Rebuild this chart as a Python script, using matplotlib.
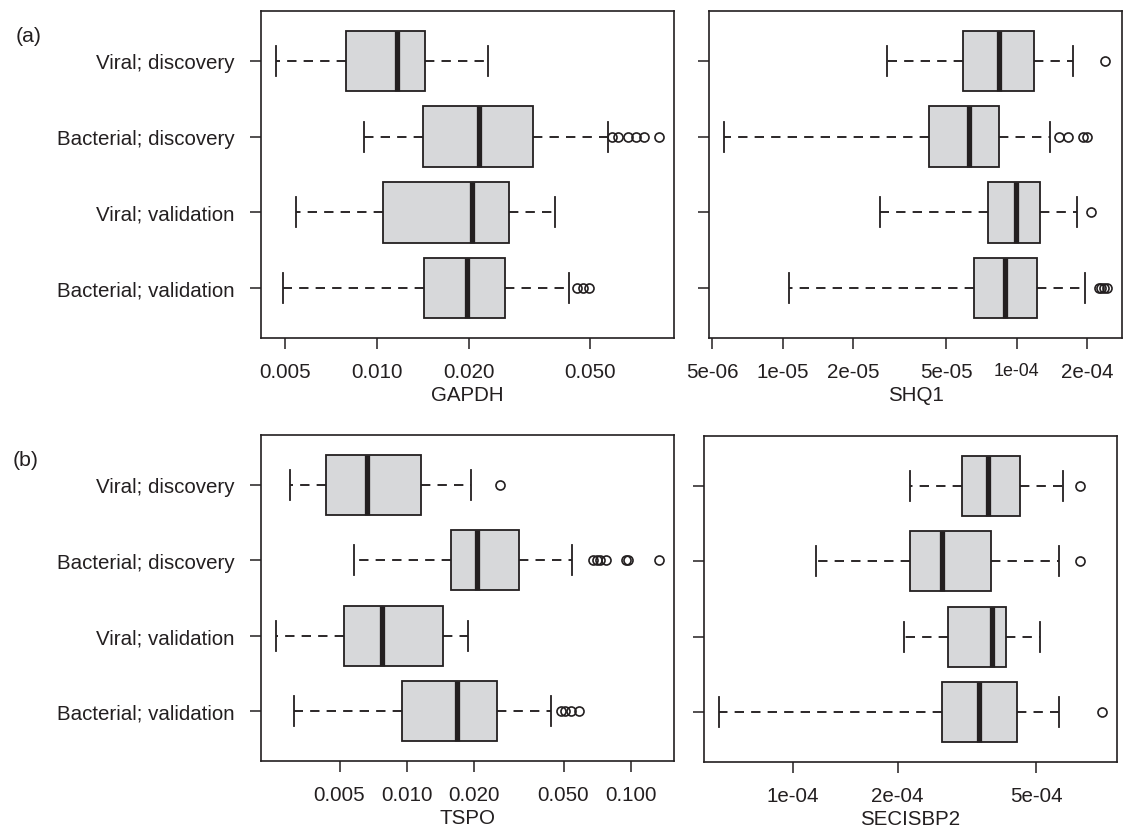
import math
import matplotlib
matplotlib.use("Agg")
import matplotlib.pyplot as plt
from matplotlib.ticker import NullLocator, FixedLocator, FixedFormatter

plt.rcParams['font.family'] = ['Liberation Sans', 'DejaVu Sans']

groups = ["Viral; discovery", "Bacterial; discovery",
          "Viral; validation", "Bacterial; validation"]

# five-number summaries per group: [whisker low, Q1, median, Q3, whisker high]
gapdh_stats = [[0.00467, 0.00789, 0.01158, 0.01441, 0.02309],
               [0.00909, 0.01413, 0.02157, 0.03237, 0.0571],
               [0.00542, 0.01042, 0.0205, 0.0270, 0.0384],
               [0.00493, 0.0142, 0.0197, 0.0263, 0.0427]]
gapdh_fliers = [[],
                [0.0591, 0.0615, 0.0664, 0.0705, 0.0749, 0.0839],
                [],
                [0.0454, 0.0475, 0.0497]]
gapdh_ticks = [0.005, 0.010, 0.020, 0.050]
gapdh_ticklabels = ["0.005", "0.010", "0.020", "0.050"]

shq1_stats = [[2.797e-5, 5.88e-5, 8.42e-5, 1.184e-4, 1.737e-4],
              [5.64e-6, 4.236e-5, 6.23e-5, 8.42e-5, 1.385e-4],
              [2.602e-5, 7.516e-5, 9.89e-5, 1.26e-4, 1.811e-4],
              [1.065e-5, 6.57e-5, 8.91e-5, 1.216e-4, 1.954e-4]]
shq1_fliers = [[2.385e-4],
               [1.524e-4, 1.654e-4, 1.921e-4, 2.0e-4],
               [2.078e-4],
               [2.24e-4, 2.30e-4, 2.36e-4, 2.425e-4]]
shq1_ticks = [5e-6, 1e-5, 2e-5, 5e-5, 1e-4, 2e-4]
shq1_ticklabels = ["5e-06", "1e-05", "2e-05", "5e-05", "1e-04", "2e-04"]

tspo_stats = [[0.00302, 0.00433, 0.00662, 0.01160, 0.01927],
              [0.00580, 0.01579, 0.02064, 0.03168, 0.0545],
              [0.00261, 0.00525, 0.00776, 0.01449, 0.01874],
              [0.00313, 0.00950, 0.0168, 0.02518, 0.0439]]
tspo_fliers = [[0.02615],
               [0.0679, 0.0703, 0.0727, 0.0773, 0.0950, 0.0967, 0.133],
               [],
               [0.0486, 0.0507, 0.0539, 0.0587]]
tspo_ticks = [0.005, 0.010, 0.020, 0.050, 0.100]
tspo_ticklabels = ["0.005", "0.010", "0.020", "0.050", "0.100"]

secisbp2_stats = [[2.175e-4, 3.066e-4, 3.64e-4, 4.496e-4, 5.956e-4],
                  [1.169e-4, 2.175e-4, 2.68e-4, 3.695e-4, 5.815e-4],
                  [2.085e-4, 2.796e-4, 3.737e-4, 4.088e-4, 5.13e-4],
                  [6.16e-5, 2.68e-4, 3.415e-4, 4.40e-4, 5.79e-4]]
secisbp2_fliers = [[6.65e-4], [6.66e-4], [], [7.70e-4]]
secisbp2_ticks = [1e-4, 2e-4, 5e-4]
secisbp2_ticklabels = ["1e-04", "2e-04", "5e-04"]

W, H = 1123, 828
fig = plt.figure(figsize=(W / 100, H / 100), dpi=100)

INK = "#231f20"
FILL = "#d7d8da"
FS = 14.8


def ax_at(x0, y0, x1, y1):
    return fig.add_axes([x0 / W, 1 - y1 / H, (x1 - x0) / W, (y1 - y0) / H])


def panel(ax, stats, fliers, ticks, ticklabels, xlabel, show_labels,
          small_label=None):
    bxs = []
    for s, f, name in zip(stats, fliers, groups):
        bxs.append(dict(whislo=s[0], q1=s[1], med=s[2], q3=s[3],
                        whishi=s[4], fliers=f, label=name))
    positions = [1, 2, 3, 4]
    ax.bxp(bxs, positions=positions, widths=0.8, vert=False,
           patch_artist=True, showfliers=True, capwidths=0.4,
           boxprops=dict(facecolor=FILL, edgecolor=INK, linewidth=1.3),
           medianprops=dict(color=INK, linewidth=3.8, solid_capstyle='butt'),
           whiskerprops=dict(color=INK, linewidth=1.35,
                             linestyle=(0, (5.0, 3.8))),
           capprops=dict(color=INK, linewidth=1.3),
           flierprops=dict(marker='o', markersize=6.5, markerfacecolor='none',
                           markeredgecolor=INK, markeredgewidth=1.2,
                           linestyle='none'))
    ax.set_xscale('log')
    lo = min(min(s[0] for s in stats),
             min((min(f) for f in fliers if f), default=1))
    hi = max(max(s[4] for s in stats),
             max((max(f) for f in fliers if f), default=0))
    llo, lhi = math.log10(lo), math.log10(hi)
    span = lhi - llo
    ax.set_xlim(10 ** (llo - 0.04 * span), 10 ** (lhi + 0.04 * span))
    ax.set_ylim(4.66, 0.34)
    ax.xaxis.set_major_locator(FixedLocator(ticks))
    ax.xaxis.set_major_formatter(FixedFormatter(ticklabels))
    ax.xaxis.set_minor_locator(NullLocator())
    ax.set_yticks(positions)
    if show_labels:
        ax.set_yticklabels(groups)
    else:
        ax.set_yticklabels([])
    ax.tick_params(axis='both', direction='out', length=8, width=1.1,
                   color=INK, labelcolor=INK, labelsize=FS)
    ax.tick_params(axis='x', pad=9.5)
    ax.tick_params(axis='y', pad=11)
    for sp in ax.spines.values():
        sp.set_linewidth(1.2)
        sp.set_color(INK)
    ax.set_xlabel(xlabel, fontsize=FS, color=INK, labelpad=3)
    if small_label is not None:
        for t in ax.get_xticklabels():
            if t.get_text() == small_label:
                t.set_fontsize(FS * 0.87)


ax1 = ax_at(261, 12, 674, 339)
panel(ax1, gapdh_stats, gapdh_fliers, gapdh_ticks, gapdh_ticklabels,
      "GAPDH", True)
ax2 = ax_at(709, 12, 1122, 339)
panel(ax2, shq1_stats, shq1_fliers, shq1_ticks, shq1_ticklabels,
      "SHQ1", False, small_label="1e-04")
ax3 = ax_at(261, 436, 674, 762)
panel(ax3, tspo_stats, tspo_fliers, tspo_ticks, tspo_ticklabels,
      "TSPO", True)
ax4 = ax_at(704, 437, 1117, 763)
panel(ax4, secisbp2_stats, secisbp2_fliers, secisbp2_ticks,
      secisbp2_ticklabels, "SECISBP2", False)

fig.text(29 / W, 1 - 37 / H, "(a)", ha='center', va='center',
         fontsize=FS + 0.5, color=INK)
fig.text(26 / W, 1 - 461 / H, "(b)", ha='center', va='center',
         fontsize=FS + 0.5, color=INK)

fig.savefig("out.png", dpi=100)
